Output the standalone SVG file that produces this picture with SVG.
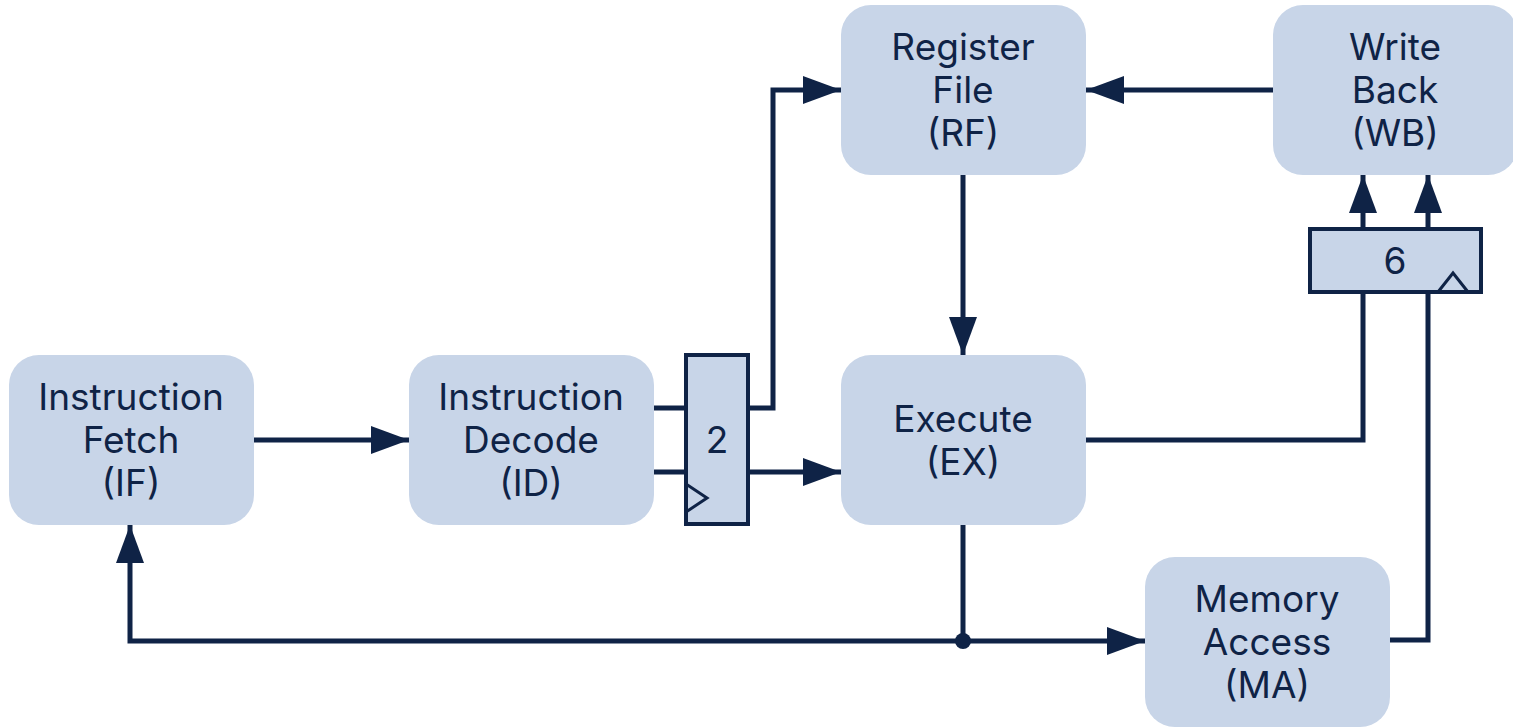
<svg xmlns="http://www.w3.org/2000/svg" width="1513" height="727" viewBox="0 0 1513 727">
<defs>
<style>
.node{fill:#c8d5e8;}
.reg{fill:#c8d5e8;stroke:#0f2346;stroke-width:4;}
.lbl{font-family:Inter,"Noto Sans",sans-serif;font-size:37px;fill:#0f2346;text-anchor:middle;}
.wire{fill:none;stroke:#0f2346;stroke-width:5;}
.clk{fill:none;stroke:#0f2346;stroke-width:3;}
</style>
<marker id="ah" markerUnits="userSpaceOnUse" viewBox="0 0 38 28" refX="38" refY="14" markerWidth="38" markerHeight="28" orient="auto">
<path d="M0,0 L38,14 L0,28 Z" fill="#0f2346"/>
</marker>
</defs>
<rect width="1513" height="727" fill="#ffffff"/>
<g id="connectors">
<path class="wire" d="M254,440 H409" marker-end="url(#ah)"/>
<path class="wire" d="M654,408 H685"/>
<path class="wire" d="M654,472 H685"/>
<path class="wire" d="M750,408 H773 V90 H841" marker-end="url(#ah)"/>
<path class="wire" d="M750,472 H841" marker-end="url(#ah)"/>
<path class="wire" d="M963,175 V355" marker-end="url(#ah)"/>
<path class="wire" d="M1273,90 H1086" marker-end="url(#ah)"/>
<path class="wire" d="M1086,440 H1363 V293"/>
<path class="wire" d="M1390,640 H1428 V293"/>
<path class="wire" d="M1363,228 V175" marker-end="url(#ah)"/>
<path class="wire" d="M1428,228 V175" marker-end="url(#ah)"/>
<path class="wire" d="M963,525 V641"/>
<path class="wire" d="M963,641 H1145" marker-end="url(#ah)"/>
<path class="wire" d="M963,641 H130 V525" marker-end="url(#ah)"/>
<circle cx="963" cy="641" r="8" fill="#0f2346"/>
</g>
<g id="IF">
<rect class="node" x="9" y="355" width="245" height="170" rx="30"/>
<text class="lbl" x="131" y="410">Instruction</text>
<text class="lbl" x="131" y="453">Fetch</text>
<text class="lbl" x="131" y="496">(IF)</text>
</g>
<g id="ID">
<rect class="node" x="409" y="355" width="245" height="170" rx="30"/>
<text class="lbl" x="531" y="410">Instruction</text>
<text class="lbl" x="531" y="453">Decode</text>
<text class="lbl" x="531" y="496">(ID)</text>
</g>
<g id="REG2">
<rect class="reg" x="686" y="355" width="62" height="169"/>
<path class="clk" d="M686,484 L707,498 L686,512"/>
<text class="lbl" x="717" y="453">2</text>
</g>
<g id="RF">
<rect class="node" x="841" y="5" width="245" height="170" rx="30"/>
<text class="lbl" x="963" y="60">Register</text>
<text class="lbl" x="963" y="103">File</text>
<text class="lbl" x="963" y="146">(RF)</text>
</g>
<g id="WB">
<rect class="node" x="1273" y="5" width="245" height="170" rx="30"/>
<text class="lbl" x="1395" y="60">Write</text>
<text class="lbl" x="1395" y="103">Back</text>
<text class="lbl" x="1395" y="146">(WB)</text>
</g>
<g id="REG6">
<rect class="reg" x="1310" y="229" width="171" height="63"/>
<path class="clk" d="M1438,292 L1453,273 L1468,292"/>
<text class="lbl" x="1395" y="274">6</text>
</g>
<g id="EX">
<rect class="node" x="841" y="355" width="245" height="170" rx="30"/>
<text class="lbl" x="963" y="432">Execute</text>
<text class="lbl" x="963" y="475">(EX)</text>
</g>
<g id="MA">
<rect class="node" x="1145" y="557" width="245" height="170" rx="30"/>
<text class="lbl" x="1267" y="612">Memory</text>
<text class="lbl" x="1267" y="655">Access</text>
<text class="lbl" x="1267" y="698">(MA)</text>
</g>
</svg>
